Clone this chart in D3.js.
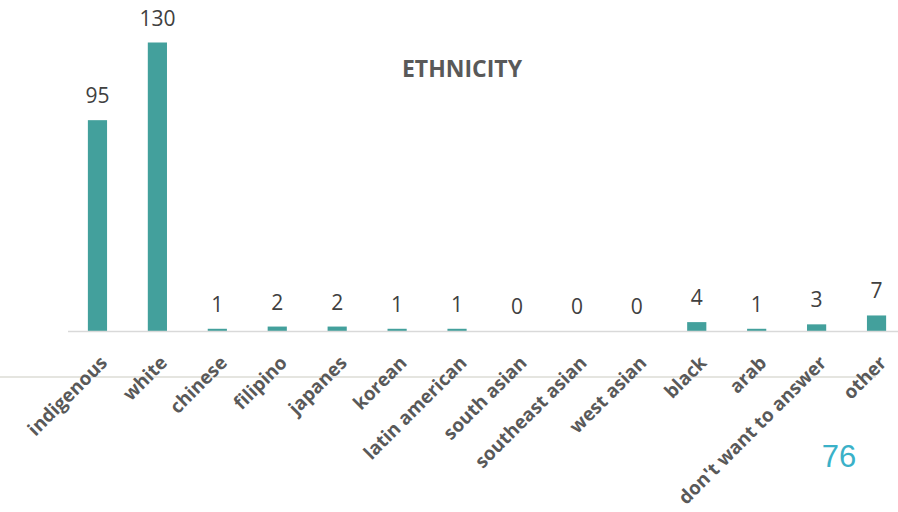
<!DOCTYPE html>
<html>
<head>
<meta charset="utf-8">
<script src="https://cdn.jsdelivr.net/npm/d3@7"></script>
<style>
  body { margin: 0; background: #fff; }
</style>
</head>
<body>
<svg id="chart" width="898" height="512"></svg>
<script>
const categories = ['indigenous', 'white', 'chinese', 'filipino', 'japanes', 'korean', 'latin american',
    'south asian', 'southeast asian', 'west asian', 'black', 'arab', "don't want to answer", 'other']
const counts = [95, 130, 1, 2, 2, 1, 1, 0, 0, 0, 4, 1, 3, 7]
const title = 'ETHNICITY'
const pageNumber = '76'

const svg = d3.select('#chart')
const baseY = 331
const x = d3.scaleBand()
    .domain(categories)
    .range([67.5, 906.5])
    .paddingInner(0.68)
    .paddingOuter(0.34)
const y = d3.scaleLinear()
    .domain([0, 130])
    .range([baseY, 42.5])

// slide separator line
svg.append('line')
    .attr('x1', 0).attr('x2', 876)
    .attr('y1', 377).attr('y2', 377)
    .attr('stroke', '#dcdcd6')
    .attr('stroke-width', 1.5)

svg.append('text')
    .text(title)
    .attr('x', 462)
    .attr('y', 77)
    .attr('text-anchor', 'middle')
    .attr('font-family', 'Open Sans')
    .attr('font-weight', 'bold')
    .attr('font-size', '23px')
    .attr('fill', '#595959')

let bars = svg.append('g').selectAll('rect')
    .data(categories)
    .enter()
    .append('rect')
    .attr('x', d => x(d))
    .attr('y', (d, i) => y(counts[i]))
    .attr('width', x.bandwidth())
    .attr('height', (d, i) => baseY - y(counts[i]))
    .attr('fill', '#43a09c')

// axis baseline
svg.append('line')
    .attr('x1', 68).attr('x2', 898)
    .attr('y1', baseY + 0.5).attr('y2', baseY + 0.5)
    .attr('stroke', '#d9d9d9')
    .attr('stroke-width', 1.5)

svg.append('g').selectAll('text')
    .data(categories)
    .enter()
    .append('text')
    .text((d, i) => counts[i])
    .attr('x', d => x(d) + x.bandwidth() / 2)
    .attr('y', (d, i) => y(counts[i]) - 17)
    .attr('text-anchor', 'middle')
    .attr('font-family', 'Open Sans')
    .attr('font-size', '21px')
    .attr('fill', '#404040')

svg.append('g').selectAll('text')
    .data(categories)
    .enter()
    .append('text')
    .text(d => d)
    .attr('transform', d => 'translate(' + (x(d) + x.bandwidth() / 2 + 11) + ',' + 364 + ') rotate(-45)')
    .attr('text-anchor', 'end')
    .attr('font-family', 'Open Sans')
    .attr('font-weight', 'bold')
    .attr('font-size', '18.8px')
    .attr('fill', '#595959')

svg.append('text')
    .text(pageNumber)
    .attr('x', 839)
    .attr('y', 467)
    .attr('text-anchor', 'middle')
    .attr('font-family', 'Liberation Sans')
    .attr('font-size', '31px')
    .attr('fill', '#3ab1c8')
</script>
</body>
</html>
